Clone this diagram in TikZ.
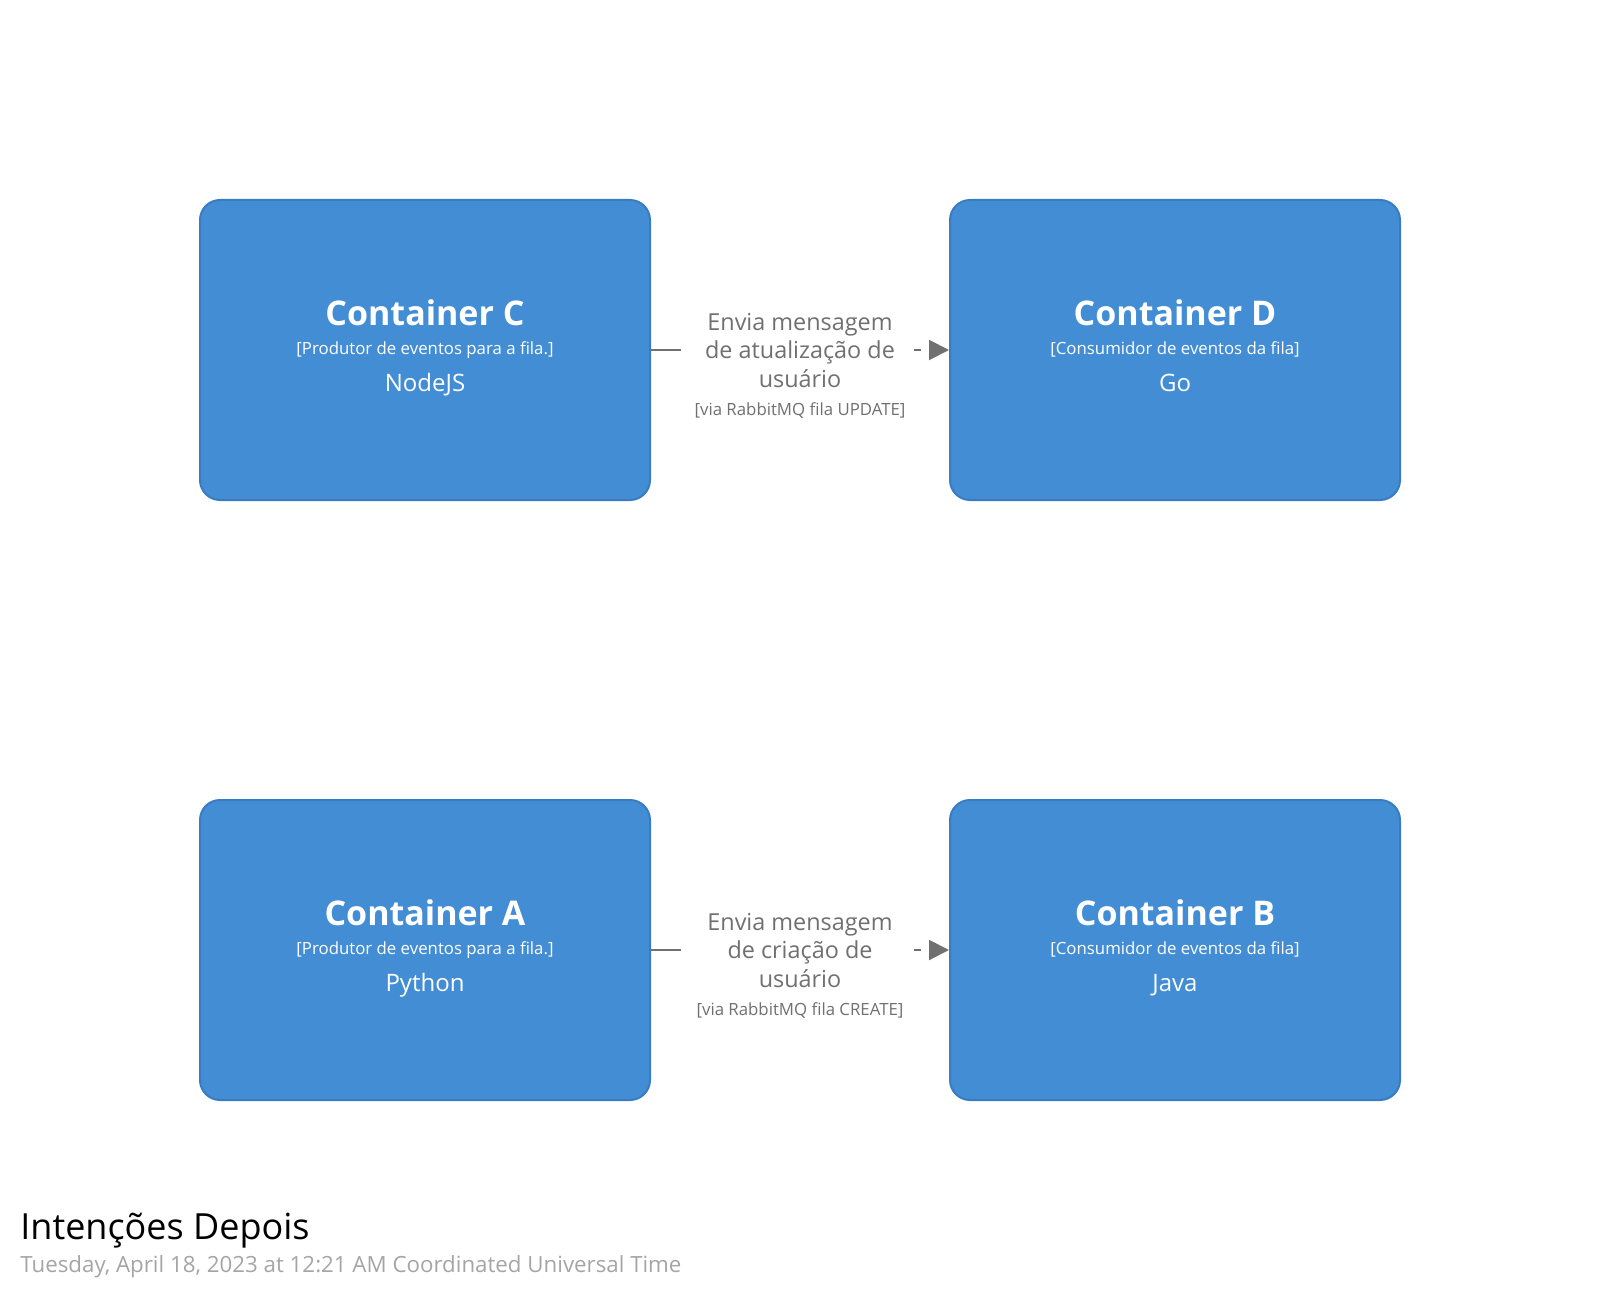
\documentclass[tikz,border=0pt]{standalone}
\usepackage{fontspec}
\setmainfont{Open Sans}
\usetikzlibrary{arrows.meta}
\definecolor{contfill}{HTML}{438DD5}
\definecolor{contline}{HTML}{3A7CC1}
\definecolor{relcol}{HTML}{707070}
\definecolor{stampcol}{HTML}{A5A5A5}
\begin{document}
\begin{tikzpicture}[x=0.5pt,y=-0.5pt,
  container/.style={draw=contline,fill=contfill,line width=1pt,rounded corners=10pt,
    minimum width=225pt,minimum height=150pt,inner sep=0pt},
  cname/.style={anchor=base,text=white,font=\fontsize{17}{20}\selectfont\bfseries},
  cmeta/.style={anchor=base,text=white,font=\fontsize{8.4}{10}\selectfont},
  cdesc/.style={anchor=base,text=white,font=\fontsize{12}{14}\selectfont},
  rel/.style={draw=relcol,line width=1pt,dash pattern=on 15pt off 5pt,
    -{Triangle[length=10pt,width=10pt]}},
  rellabel/.style={fill=white,text=relcol,align=center,minimum width=113.5pt,
    inner xsep=0pt,font=\fontsize{11.7}{14.3}\selectfont},
]
\useasboundingbox (0,0) rectangle (1600,1300);
  % Node: contC
  \node[container] (contC) at (425,350) {};
  \node[cname] (contCname) at (425,325.5) {Container C};
  \node[cmeta] (contCmeta) at (425,354) {[Produtor de eventos para a fila.]};
  \node[cdesc] (contCdesc) at (425,391) {NodeJS};
  % Node: contD
  \node[container] (contD) at (1175,350) {};
  \node[cname] (contDname) at (1175,325.5) {Container D};
  \node[cmeta] (contDmeta) at (1175,354) {[Consumidor de eventos da fila]};
  \node[cdesc] (contDdesc) at (1175,391) {Go};
  % Node: contA
  \node[container] (contA) at (425,950) {};
  \node[cname] (contAname) at (425,925.5) {Container A};
  \node[cmeta] (contAmeta) at (425,954) {[Produtor de eventos para a fila.]};
  \node[cdesc] (contAdesc) at (425,991) {Python};
  % Node: contB
  \node[container] (contB) at (1175,950) {};
  \node[cname] (contBname) at (1175,925.5) {Container B};
  \node[cmeta] (contBmeta) at (1175,954) {[Consumidor de eventos da fila]};
  \node[cdesc] (contBdesc) at (1175,991) {Java};
  % Edge: contC -> contD
  \draw[rel] (contC) -- (contD) node[midway,rellabel,yshift=-7.8pt] (relCD)
    {Envia mensagem\\de atualização de\\usuário\\[-0.3pt]{\fontsize{8.4}{10}\selectfont [via RabbitMQ fila UPDATE]}};
  % Edge: contA -> contB
  \draw[rel] (contA) -- (contB) node[midway,rellabel,yshift=-7.8pt] (relAB)
    {Envia mensagem\\de criação de\\usuário\\[-0.3pt]{\fontsize{8.4}{10}\selectfont [via RabbitMQ fila CREATE]}};
  % Title
  \node[anchor=base west,inner sep=0pt,font=\fontsize{18}{22}\selectfont] (title) at (20,1239.5) {Intenções Depois};
  \node[anchor=base west,inner sep=0pt,text=stampcol,font=\fontsize{11.15}{14}\selectfont] (stamp) at (20,1272.5)
    {Tuesday, April 18, 2023 at 12:21 AM Coordinated Universal Time};
\end{tikzpicture}
\end{document}
